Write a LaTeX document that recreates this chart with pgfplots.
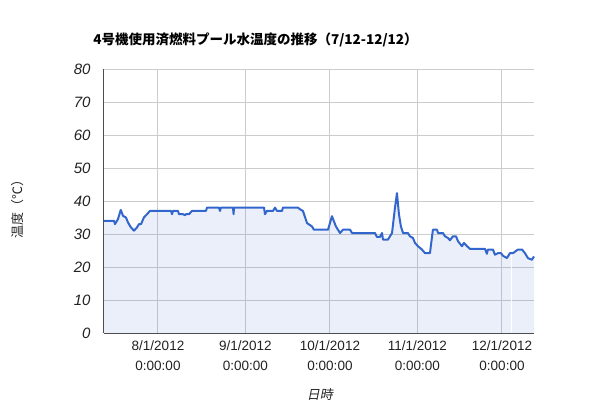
\documentclass[border=0pt]{standalone}
\usepackage{pgfplots}
\pgfplotsset{compat=1.18}
\usepackage{pgfplotstable}
\usepackage{fontspec}
\setmainfont{Liberation Sans}
\newfontfamily\cjk{Noto Sans CJK JP}
\newfontfamily\cjkit[FakeSlant=0.2]{Noto Sans CJK JP}

\definecolor{lineblue}{HTML}{3366CC}
\definecolor{gridgrey}{HTML}{CCCCCC}
\definecolor{axisgrey}{HTML}{4D4D4D}
\definecolor{tickgrey}{HTML}{222222}

% Pool water temperature; x = days counted from 7/1/2012 (8/1 = 31)
\pgfplotstableread{
day    temp
11.85  34.0
15.4   34.0
15.75  33.0
16.8   34.5
17.8   37.3
18.6   35.5
19.65  35.0
20.35  33.5
21.4   32.0
22.5   31.0
23.55  32.0
24.25  33.0
25.0   33.0
26.0   35.0
27.1   36.0
28.15  37.0
35.6   37.0
36.0   36.0
36.3   37.0
38.1   37.0
38.45  36.0
39.85  36.0
40.55  35.7
40.9   36.0
42.0   36.0
43.05  37.0
44.5   37.0
48.0   37.0
48.4   38.0
52.6   38.0
53.0   37.0
53.3   38.0
57.6   38.0
57.8   36.0
57.95  38.0
68.6   38.0
68.95  36.0
69.65  37.0
71.8   37.0
72.5   38.0
73.2   37.0
75.0   37.0
75.3   38.0
80.65  38.0
81.35  37.5
82.4   37.0
83.85  33.3
85.6   32.3
86.3   31.3
91.3   31.3
92.7   35.4
94.1   32.3
95.55  30.3
96.6   31.3
99.1   31.3
99.8   30.3
107.95 30.3
108.65 29.1
109.7  29.1
110.45 30.3
110.8  28.3
112.55 28.3
114.0  30.3
115.05 38.0
115.75 42.4
116.45 36.0
117.15 32.3
117.9  30.3
119.65 30.3
120.35 29.3
121.4  28.8
122.15 27.3
123.2  26.3
124.6  25.3
125.7  24.2
127.45 24.2
128.5  31.3
129.95 31.3
130.3  30.3
132.05 30.3
132.8  29.3
133.85 28.8
134.55 28.1
135.6  29.3
136.7  29.3
137.4  27.8
138.8  26.3
139.5  27.3
140.6  26.3
141.65 25.5
146.95 25.5
147.65 24.0
148.0  25.3
149.8  25.3
150.5  23.7
151.55 24.2
152.65 24.2
153.35 23.4
154.75 22.7
155.8  24.2
156.9  24.2
158.65 25.3
160.1  25.3
161.15 24.2
162.2  22.7
163.6  22.2
164.35 23.2
}\pooltemp

\begin{document}
\begin{tikzpicture}[x=1pt,y=1pt]
\path[use as bounding box] (0,0) rectangle (600,410);
\begin{axis}[
  at={(104pt,77pt)}, anchor=south west,
  scale only axis, width=430pt, height=264pt,
  xmin=11.85, xmax=164.35, ymin=0, ymax=80,
  axis lines*=left,
  axis line style={-, draw=axisgrey, line width=1pt},
  major tick length=0pt,
  xtick={31,62,92,123,153},
  xticklabels={{8/1/2012\\0:00:00},{9/1/2012\\0:00:00},{10/1/2012\\0:00:00},{11/1/2012\\0:00:00},{12/1/2012\\0:00:00}},
  xticklabel style={align=center, font=\fontsize{13.5}{20}\selectfont, text=tickgrey, yshift=-4pt},
  ytick={0,10,...,80},
  yticklabel style={font=\fontsize{15}{17}\selectfont\itshape, text=tickgrey, xshift=-10pt},
  /pgf/number format/assume math mode=true,
  grid=major,
  major grid style={draw=gridgrey, line width=1pt},
  title={\cjk\bfseries 4号機使用済燃料プール水温度の推移（7/12-12/12）},
  title style={font=\fontsize{13.5}{15}\selectfont, anchor=west, at={(axis description cs:-0.033,1.088)}},
  xlabel={\cjkit 日時},
  xlabel style={font=\fontsize{13}{15}\selectfont, text=tickgrey, anchor=center, at={(axis description cs:0.502,-0.235)}},
  ylabel={\cjk 温度（℃）},
  ylabel style={font=\fontsize{13}{15}\selectfont, text=tickgrey, anchor=center, rotate=0, at={(axis description cs:-0.202,0.481)}},
  clip=false,
]
\addplot[draw=none, fill=lineblue, fill opacity=0.1] table[x=day, y=temp] {\pooltemp} \closedcycle;
\addplot[white, line width=0.8pt, forget plot] coordinates {(156.2,0.3) (156.2,23.6)};
\addplot[lineblue, line width=2pt, line join=round] table[x=day, y=temp] {\pooltemp};
\end{axis}
\end{tikzpicture}
\end{document}
